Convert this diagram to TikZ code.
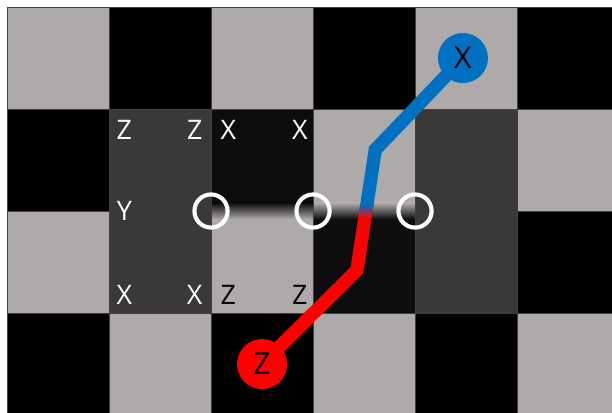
\documentclass[tikz,border=0pt]{standalone}
\usepackage{fontspec}
\setmainfont{Open Sans}
\usetikzlibrary{calc}
\definecolor{lightsq}{HTML}{AEAAAA}
\definecolor{darksq}{HTML}{3B3838}
\definecolor{nightsq}{HTML}{0D0D0D}
\definecolor{qblue}{HTML}{0070C0}
\definecolor{qred}{HTML}{FF0000}
\tikzset{
  square/.style={draw=black!75, line width=0.5pt},
  ring/.style={circle, draw=white, line width=2.3pt, minimum size=0.65cm, inner sep=0pt},
  corner/.style={text=white, inner sep=0pt, font=\fontsize{15}{17}\selectfont},
  qubit/.style={circle, minimum size=0.98cm, inner sep=0pt, font=\fontsize{17}{19}\selectfont},
  wire/.style={line width=7.4pt}
}
\begin{document}
\begin{tikzpicture}[x=2cm,y=-2cm]
\useasboundingbox (-0.0686,-0.0686) rectangle (5.931,3.971);
\clip (-0.0686,-0.0686) rectangle (5.931,3.971);
% checkerboard
\foreach \c in {0,...,5}
  \foreach \r in {0,...,3} {
    \pgfmathtruncatemacro\odd{mod(\c+\r,2)}
    \ifnum\odd=0 \def\sq{lightsq}\else\def\sq{black}\fi
    \draw[square, fill=\sq] (\c,\r) rectangle ++(1,1);
  }
% patch in the middle
\draw[square, fill=darksq] (1,1) rectangle (2,3);
\draw[square, fill=darksq] (4,1) rectangle (5,3);
\fill[nightsq] (2,1) rectangle (3,2);
\fill[lightsq] (2,2) rectangle (3,3);
\shade[top color=nightsq, bottom color=lightsq] (2,1.92) rectangle (3,2.08);
\draw[square] (2,1) rectangle (3,3);
\fill[lightsq] (3,1) rectangle (4,2);
\fill[nightsq] (3,2) rectangle (4,3);
\shade[top color=lightsq, bottom color=nightsq] (3,1.92) rectangle (4,2.08);
\draw[square] (3,1) rectangle (4,3);

\node[ring] (r1) at (2,2) {};
\node[ring] (r2) at (3,2) {};
\node[ring] (r3) at (4,2) {};

\node[corner] (z1) at (1.15,1.2) {Z};
\node[corner] (z2) at (1.84,1.2) {Z};
\node[corner] (x1) at (2.17,1.2) {X};
\node[corner] (x2) at (2.87,1.2) {X};
\node[corner] (y1) at (1.15,2.0) {Y};
\node[corner] (x3) at (1.15,2.82) {X};
\node[corner] (x4) at (1.84,2.82) {X};
\node[corner, text=black] (z3) at (2.17,2.82) {Z};
\node[corner, text=black] (z4) at (2.87,2.82) {Z};

% the string from X to Z
\coordinate (xpos) at (4.47,0.5);
\coordinate (zpos) at (2.5,3.5);
\coordinate (bendx) at (3.61,1.40);
\coordinate (bendz) at (3.43,2.58);
\coordinate (wmid) at ($(bendx)!0.5!(bendz)$);
\draw[wire, qblue] (xpos) -- (bendx) -- (wmid);
\draw[wire, qred] (wmid) -- (bendz) -- (zpos);
\begin{scope}
  \clip (3,1.93) rectangle (4,2.07);
  \clip ($(bendx)!0.131cm!90:(bendz)$) -- ($(bendx)!0.131cm!-90:(bendz)$)
    -- ($(bendz)!0.131cm!90:(bendx)$) -- ($(bendz)!0.131cm!-90:(bendx)$) -- cycle;
  \shade[top color=qblue, bottom color=qred] (3,1.93) rectangle (4,2.07);
\end{scope}

\node[qubit, fill=qblue] (qx) at (xpos) {X};
\node[qubit, fill=qred] (qz) at (zpos) {Z};
\end{tikzpicture}
\end{document}
